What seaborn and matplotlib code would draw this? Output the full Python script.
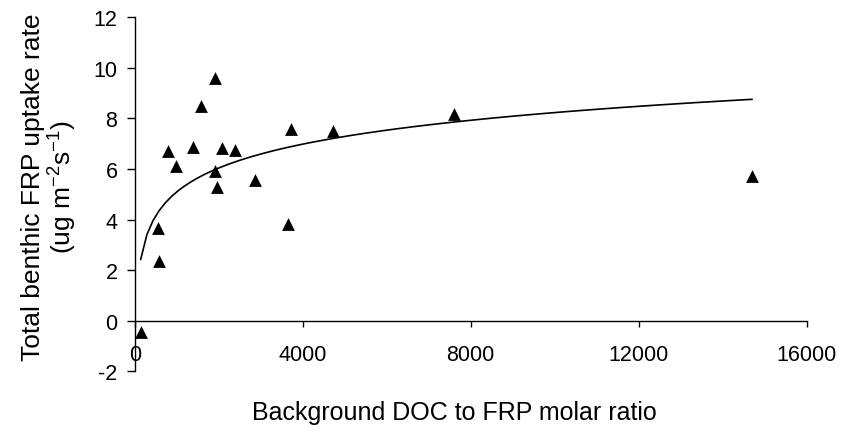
import matplotlib
matplotlib.use("Agg")
import matplotlib.pyplot as plt
import seaborn as sns
import numpy as np
import pandas as pd

# Data
doc_frp_ratio = [140, 543, 575, 798, 975, 1397, 1581, 1900, 1900, 1956,
                 2076, 2379, 2874, 3657, 3729, 4711, 7600, 14705]
frp_uptake = [-0.43, 3.66, 2.38, 6.70, 6.11, 6.87, 8.49, 9.61, 5.91, 5.28,
              6.84, 6.77, 5.57, 3.81, 7.59, 7.52, 8.17, 5.72]
x_ticks = [0, 4000, 8000, 12000, 16000]
y_ticks = [-2, 0, 2, 4, 6, 8, 10, 12]

df = pd.DataFrame({"ratio": doc_frp_ratio, "uptake": frp_uptake})

sns.set_style("ticks")
plt.rcParams["font.family"] = ["Liberation Sans", "DejaVu Sans"]
plt.rcParams["mathtext.fontset"] = "custom"
plt.rcParams["mathtext.rm"] = "Liberation Sans"
plt.rcParams["mathtext.it"] = "Liberation Sans:italic"
plt.rcParams["mathtext.default"] = "regular"

fig = plt.figure(figsize=(8.44, 4.31), dpi=100)
ax = fig.add_axes([0.1597, 0.13619, 0.7959, 0.82135])

# logarithmic trend line
sns.regplot(data=df, x="ratio", y="uptake", logx=True, ci=None, scatter=False,
            line_kws={"color": "black", "lw": 1.2}, ax=ax)
sns.scatterplot(data=df, x="ratio", y="uptake", marker="^", s=85,
                color="black", linewidth=0, ax=ax, zorder=3, clip_on=False)

ax.set_xlim(0, 16000)
ax.set_ylim(-2, 12)
ax.set_xticks(x_ticks)
ax.set_yticks(y_ticks)
ax.set_xticklabels([str(v) for v in x_ticks])
ax.set_yticklabels([str(v) for v in y_ticks])
ax.set_xlabel("")
ax.set_ylabel("")

for s in ["top", "right"]:
    ax.spines[s].set_visible(False)
ax.spines["bottom"].set_position(("data", 0))
ax.spines["left"].set_linewidth(1.0)
ax.spines["bottom"].set_linewidth(1.0)
ax.spines["left"].set_color("black")
ax.spines["bottom"].set_color("black")

ax.tick_params(axis="x", direction="out", length=4.3, width=1.0, pad=12.5,
               labelsize=15.5, colors="black")
ax.tick_params(axis="y", direction="out", length=5.5, width=1.0, pad=7,
               labelsize=15.5, colors="black")
ax.set_facecolor("white")
fig.patch.set_facecolor("white")

fig.text(454 / 844, 1 - 420 / 431, "Background DOC to FRP molar ratio",
         ha="center", va="baseline", fontsize=18, color="black")
fig.text(50 / 844, 1 - 187 / 431,
         "Total benthic FRP uptake rate\n(ug m$^{-2}$s$^{-1}$)",
         ha="center", va="center", rotation=90, fontsize=19,
         multialignment="center", color="black", linespacing=1.05)

fig.savefig("out.png", dpi=100)
